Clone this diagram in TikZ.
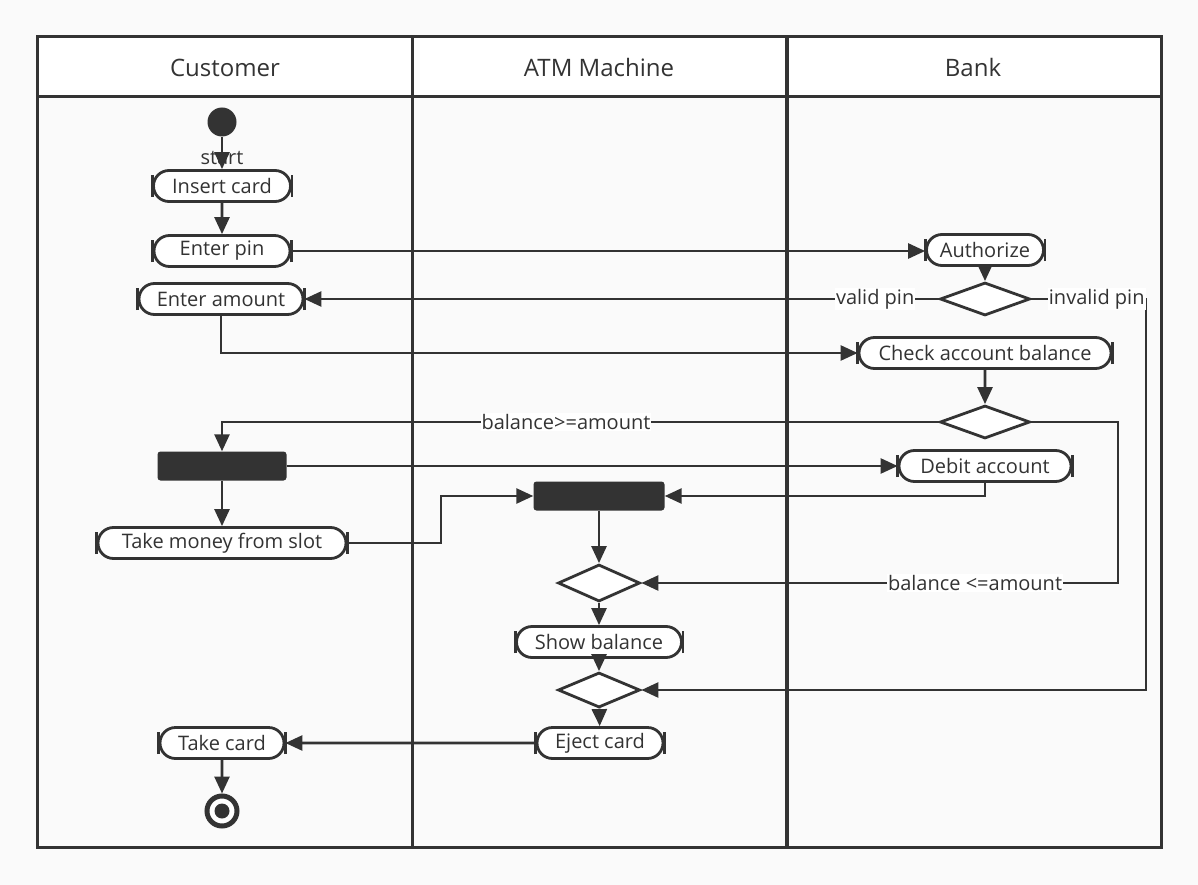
\documentclass[tikz,border=0pt]{standalone}
\usepackage{fontspec}
\setmainfont{Open Sans}
\usetikzlibrary{arrows.meta}
\usetikzlibrary{shapes.misc}
\usetikzlibrary{shapes.geometric}

\definecolor{ink}{HTML}{333333}
\definecolor{paper}{HTML}{FAFAFA}
\newcommand{\actfont}{\fontsize{20}{23}\selectfont}
\newcommand{\lanefont}{\fontsize{24}{28}\selectfont}

\tikzset{
  action/.style={rounded rectangle, draw=ink, line width=2.8pt, fill=white,
    minimum height=31pt, inner sep=2pt, font=\actfont, text=ink},
  decision/.style={diamond, draw=ink, line width=2.8pt, fill=white,
    minimum width=90pt, minimum height=33pt, inner sep=0pt},
  forkbar/.style={rectangle, rounded corners=3pt, fill=ink,
    minimum width=129pt, minimum height=29pt},
  guard/.style={fill=white, inner sep=1pt, font=\actfont, text=ink},
  lanehead/.style={font=\lanefont, text=ink},
  flow/.style={draw=ink, line width=2.6pt, -{Triangle[length=17pt,width=15pt]}},
}

\begin{document}
\begin{tikzpicture}[x=1pt,y=-1pt]
  \useasboundingbox (0,0) rectangle (1198,885);
  \fill[paper] (0,0) rectangle (1198,885);

  % swimlanes
  \fill[white] (37,37) rectangle (1161,97);
  \draw[ink, line width=3pt] (37,37) rectangle (1161,847);
  \draw[ink, line width=3pt] (37,97) -- (1161,97);
  \draw[ink, line width=3pt] (412,37) -- (412,847);
  \draw[ink, line width=4pt] (786.5,37) -- (786.5,847);
  \node[lanehead] (custhead) at (225,68) {Customer};
  \node[lanehead] (atmhead) at (599,68) {ATM Machine};
  \node[lanehead] (bankhead) at (973,68) {Bank};

  % nodes
  \node[circle, fill=ink, minimum size=29pt, inner sep=0pt] (start) at (222,122) {};
  \node[font=\actfont, text=ink, inner sep=0pt] (startlbl) at (222,158) {start};
  \node[action, minimum width=141] (insert) at (222,186) {Insert card};
  \node[action, minimum width=140] (pin) at (222,251) {Enter pin};
  \node[action, minimum width=168] (amount) at (221,299) {Enter amount};
  \node[action, minimum width=121] (auth) at (985,250) {Authorize};
  \node[decision] (dec1) at (985,299) {};
  \node[action, minimum width=256] (check) at (985,353) {Check account balance};
  \node[decision] (dec2) at (985,422) {};
  \node[forkbar] (fork) at (222,466) {};
  \node[action, minimum width=176] (debit) at (985,466) {Debit account};
  \node[forkbar, minimum width=131] (join) at (599,496) {};
  \node[action, minimum width=252] (money) at (222,543) {Take money from slot};
  \node[decision, minimum width=82, minimum height=37] (merge1) at (599,583) {};
  \node[action, minimum width=169] (show) at (599,642) {Show balance};
  \node[decision, minimum width=82, minimum height=35] (merge2) at (599,690) {};
  \node[action, minimum width=130] (eject) at (600,743) {Eject card};
  \node[action, minimum width=128] (takecard) at (222,743) {Take card};
  \node[circle, draw=ink, line width=5pt, fill=white, minimum size=30pt, inner sep=0pt] (end) at (222,811) {};
  \node[circle, fill=ink, minimum size=15pt, inner sep=0pt] (enddot) at (222,811) {};

  \foreach \n in {insert,pin,amount,auth,check,debit,money,show,eject,takecard}
    \draw[ink, line width=2.8pt] ([yshift=-11pt]\n.west) -- ([yshift=11pt]\n.west)
      ([yshift=-11pt]\n.east) -- ([yshift=11pt]\n.east);

  \coordinate (pinturn) at (1146,299);
  \coordinate (lowturn) at (1118,422);
  \coordinate (moneyturn) at (441,543);

  % connectors
  \draw[flow] (start) -- (insert);
  \draw[flow] (insert) -- (pin);
  \draw[flow] (pin.east) -- (pin.east -| auth.west);
  \draw[flow] (auth) -- (dec1);
  \draw[flow] (dec1.west) -- node[guard, pos=0.1] {valid pin} (amount.east);
  \draw[flow] (dec1.east) -- node[guard, pos=0.57] {invalid pin} (pinturn) |- (merge2.east);
  \draw[flow] (amount.south) |- (check.west);
  \draw[flow] (check) -- (dec2);
  \draw[flow] (dec2.west) -| node[guard, pos=0.26] {balance>=amount} (fork.north);
  \draw[flow] (dec2.east) -- (lowturn) |- node[guard, pos=0.65] {balance <=amount} (merge1.east);
  \draw[flow] (fork.east) -- (fork.east -| debit.west);
  \draw[flow] (fork) -- (money);
  \draw[flow] (debit.south) |- (join.east);
  \draw[flow] (money.east) -- (moneyturn) |- (join.west);
  \draw[flow] (join) -- (merge1);
  \draw[flow] (merge1) -- (show);
  \draw[flow] (show) -- (merge2);
  \draw[flow] (merge2) -- (eject);
  \draw[flow] (eject) -- (takecard);
  \draw[flow] (takecard) -- (end);
\end{tikzpicture}
\end{document}
